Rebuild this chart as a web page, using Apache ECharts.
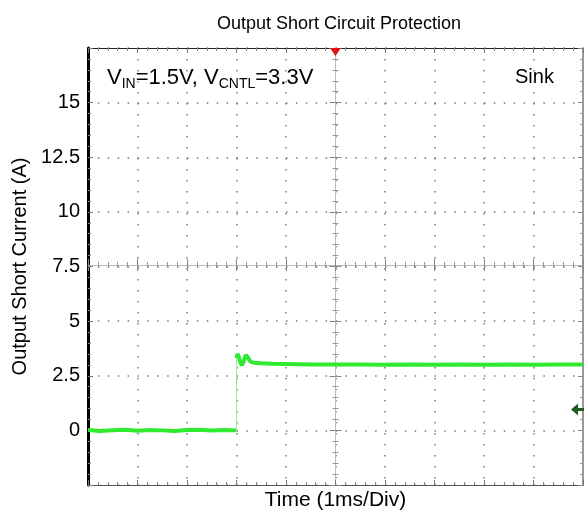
<!DOCTYPE html>
<html>
<head>
<meta charset="utf-8">
<script src="https://cdn.jsdelivr.net/npm/echarts@6/dist/echarts.min.js"></script>
<style>
  html, body { margin: 0; padding: 0; background: #fff; }
  #chart { width: 584px; height: 516px; }
</style>
</head>
<body>
<div id="chart"></div>
<script>
// trace before the short (A)
const preTime = [0, 0.25, 0.5, 0.75, 1, 1.25, 1.5, 1.75, 2, 2.25, 2.5, 2.75, 2.99];
const preCurrent = [0.02, -0.03, 0.01, 0.03, -0.02, 0.02, 0.0, -0.03, 0.02, 0.03, -0.01, 0.02, 0.0];
// trace after the short (A)
const postTime = [3.0, 3.02, 3.05, 3.08, 3.11, 3.15, 3.19, 3.21, 3.24, 3.28, 3.35, 3.5, 3.75, 4, 4.5, 5, 5.5, 6, 6.5, 7, 7.5, 8, 8.5, 9, 9.5, 10];
const postCurrent = [3.3, 3.5, 3.35, 3.1, 2.98, 3.2, 3.45, 3.5, 3.3, 3.15, 3.1, 3.07, 3.05, 3.04, 3.02, 3.01, 3.02, 3.0, 3.01, 3.0, 3.01, 3.0, 3.01, 3.0, 3.02, 3.01];
// vertical edge of the step
const riseTime = [3.0, 3.0];
const riseCurrent = [0.0, 3.3];
// y tick labels that are printed
const yTickLabels = ['0', '2.5', '5', '7.5', '10', '12.5', '15'];
// scope markers: trigger (top) and channel level (right)
const triggerMark = [5, 17.5];
const levelMark = [9.89, 0.96];

const font = 'Liberation Sans, Arial, sans-serif';
const chart = echarts.init(document.getElementById('chart'));

const pair = (xs, ys) => xs.map((x, i) => [x, ys[i]]);

// common bits for the border / crosshair axes
const xBase = { type: 'value', min: 0, max: 10, interval: 1, axisLabel: { show: false }, splitLine: { show: false } };
const yBase = { type: 'value', min: -2.5, max: 17.5, interval: 2.5, axisLabel: { show: false }, splitLine: { show: false } };

const options = {
  animation: false,
  title: {
    text: 'Output Short Circuit Protection',
    left: 334,
    top: 10,
    textAlign: 'center',
    textStyle: { fontFamily: font, fontSize: 18, fontWeight: 'normal', color: '#000' },
  },
  grid: { left: 88, right: 1, top: 48, bottom: 28 },
  xAxis: [
    {
      ...xBase,
      position: 'bottom',
      name: 'Time (1ms/Div)',
      nameLocation: 'middle',
      nameGap: 5,
      nameTextStyle: { fontFamily: font, fontSize: 21, color: '#000', verticalAlign: 'top' },
      axisLine: { onZero: false, lineStyle: { color: '#555', width: 1 } },
      axisTick: { inside: true, length: 5, lineStyle: { color: '#777' } },
      minorTick: { show: true, splitNumber: 5, length: 3, lineStyle: { color: '#888' } },
      splitLine: { show: true, lineStyle: { color: '#777', width: 1.5, type: [1.5, 9.5] } },
    },
    {
      ...xBase,
      position: 'top',
      axisLine: { onZero: false, lineStyle: { color: '#222', width: 1 } },
      axisTick: { inside: true, length: 5, lineStyle: { color: '#777' } },
      minorTick: { show: true, splitNumber: 5, length: 3, lineStyle: { color: '#888' } },
    },
    // centre horizontal crosshair, ticks up and down
    {
      ...xBase,
      position: 'bottom',
      offset: -220,
      axisLine: { onZero: false, lineStyle: { color: '#bbb', width: 1 } },
      axisTick: { inside: true, length: 6, lineStyle: { color: '#888' } },
      minorTick: { show: true, splitNumber: 5, length: 3, lineStyle: { color: '#999' } },
    },
    {
      ...xBase,
      position: 'bottom',
      offset: -220,
      axisLine: { show: false, onZero: false },
      axisTick: { inside: false, length: 6, lineStyle: { color: '#888' } },
      minorTick: { show: true, splitNumber: 5, length: 3, lineStyle: { color: '#999' } },
    },
  ],
  yAxis: [
    {
      ...yBase,
      position: 'left',
      name: 'Output Short Current (A)',
      nameLocation: 'middle',
      nameGap: 46,
      nameTextStyle: { fontFamily: font, fontSize: 20, color: '#000' },
      axisLine: { onZero: false, lineStyle: { color: '#000', width: 3 } },
      axisTick: { inside: true, length: 5, lineStyle: { color: '#777' } },
      minorTick: { show: true, splitNumber: 5, length: 3, lineStyle: { color: '#888' } },
      axisLabel: {
        show: true,
        margin: 8,
        fontFamily: font,
        fontSize: 20,
        color: '#000',
        formatter: (v) => (yTickLabels.includes(String(v)) ? String(v) : ''),
      },
      splitLine: { show: true, lineStyle: { color: '#777', width: 1.5, type: [1.5, 8.4] } },
    },
    {
      ...yBase,
      position: 'right',
      axisLine: { onZero: false, lineStyle: { color: '#999', width: 2 } },
      axisTick: { inside: true, length: 5, lineStyle: { color: '#888' } },
      minorTick: { show: true, splitNumber: 5, length: 3, lineStyle: { color: '#999' } },
    },
    // centre vertical crosshair
    {
      ...yBase,
      position: 'left',
      offset: -247.5,
      axisLine: { onZero: false, lineStyle: { color: '#bbb', width: 1 } },
      axisTick: { inside: true, length: 6, lineStyle: { color: '#888' } },
      minorTick: { show: true, splitNumber: 5, length: 3, lineStyle: { color: '#999' } },
    },
    {
      ...yBase,
      position: 'left',
      offset: -247.5,
      axisLine: { show: false, onZero: false },
      axisTick: { inside: false, length: 6, lineStyle: { color: '#888' } },
      minorTick: { show: true, splitNumber: 5, length: 3, lineStyle: { color: '#999' } },
    },
  ],
  graphic: [
    {
      type: 'text',
      left: 107,
      top: 67,
      style: {
        text: '{m|V}{s|IN}{m|=1.5V, V}{s|CNTL}{m|=3.3V}',
        rich: {
          m: { fontFamily: font, fontSize: 22, color: '#000', lineHeight: 26 },
          s: { fontFamily: font, fontSize: 14, color: '#000', lineHeight: 14, verticalAlign: 'bottom' },
        },
      },
    },
    {
      type: 'text',
      left: 515,
      top: 67,
      style: { text: 'Sink', fontFamily: font, fontSize: 20, fill: '#000' },
    },
  ],
  series: [
    {
      type: 'line',
      xAxisIndex: 0,
      yAxisIndex: 0,
      data: pair(riseTime, riseCurrent),
      showSymbol: false,
      lineStyle: { color: '#8ef08e', width: 1 },
    },
    {
      type: 'line',
      xAxisIndex: 0,
      yAxisIndex: 0,
      data: pair(preTime, preCurrent).concat([[3.0, '-']], pair(postTime, postCurrent)),
      connectNulls: false,
      showSymbol: false,
      lineStyle: { color: '#2fea2f', width: 4 },
      markPoint: {
        label: { show: false },
        data: [
          {
            coord: triggerMark,
            symbol: 'triangle',
            symbolSize: [11, 8],
            symbolRotate: 180,
            symbolOffset: [0, 4],
            itemStyle: { color: '#e01515' },
          },
          {
            coord: levelMark,
            symbol: 'path://M0,6 L7,0 L7,4.5 L13,4.5 L13,7.5 L7,7.5 L7,12 Z',
            symbolSize: [13, 12],
            itemStyle: { color: '#1d5c1d' },
          },
        ],
      },
    },
  ],
};
chart.setOption(options);
</script>
</body>
</html>
